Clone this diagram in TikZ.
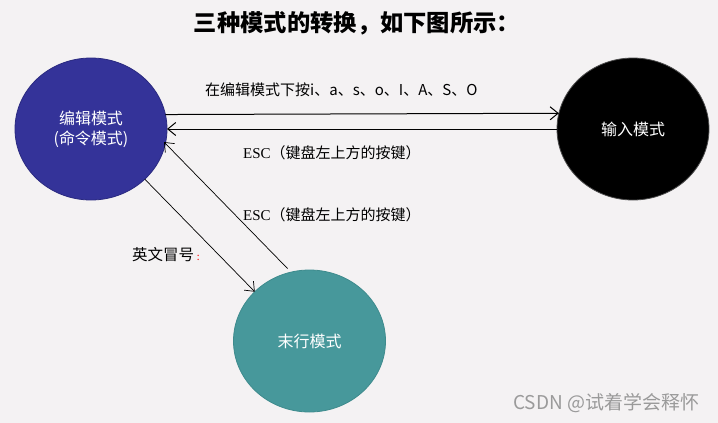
\documentclass[tikz,border=0pt]{standalone}
\usepackage{fontspec}
\newfontfamily\cjk{Noto Sans CJK SC}
\newfontfamily\serifL{Liberation Serif}
\usetikzlibrary{shapes.geometric,arrows.meta}
\definecolor{bgc}{HTML}{F4F2F3}
\definecolor{editblue}{HTML}{343399}
\definecolor{editborder}{HTML}{2A2A80}
\definecolor{tealc}{HTML}{47989B}
\definecolor{tealb}{HTML}{3E8B8D}
\definecolor{wmgray}{HTML}{9A9A9A}
\begin{document}
\begin{tikzpicture}[x=1pt,y=-1pt,
  mode/.style={ellipse, minimum width=152pt, minimum height=142pt, inner sep=0pt, outer sep=0pt,
    text=white, font=\cjk\fontsize{16}{20}\selectfont, align=center, line width=0.8pt},
  lbl/.style={anchor=west, inner sep=0pt, font=\cjk\fontsize{15}{18}\selectfont},
  arr/.style={-{Straight Barb[length=8pt,width=13pt]}, line width=1pt},
  thinarr/.style={arr, line width=0.7pt}
]
\fill[bgc] (0,0) rectangle (718,423);
\useasboundingbox (0,0) rectangle (718,423);

\node[inner sep=0pt, font=\cjk\bfseries\fontsize{23.3}{27}\selectfont] (title) at (357,23) {三种模式的转换，如下图所示：};

\node[mode, fill=editblue, draw=editborder] (edit) at (91,129) {编辑模式\\(命令模式)};
\node[mode, fill=black, draw=black!70] (input) at (633,129) {输入模式};
\node[mode, fill=tealc, draw=tealb] (last) at (309.5,341) {末行模式};

\draw[arr] (edit.11.4) -- (input.168.6);
\draw[arr] (input.west) -- (edit.east);
\draw[thinarr, shorten <=5pt, shorten >=-2pt] (last.105.6) -- (edit.-11.7);
\draw[thinarr] (edit.-43.4) -- (last.138);

\node[lbl] (l1) at (205,89.5) {在编辑模式下按i、a、s、o、I、A、S、O};
\node[lbl] (l2) at (243,153) {{\serifL ESC}（键盘左上方的按键）};
\node[lbl] (l3) at (243,215) {{\serifL ESC}（键盘左上方的按键）};
\node[lbl, font=\cjk\fontsize{15.5}{18}\selectfont] (l4) at (132,255) {英文冒号\,{\color{red}\fontsize{10}{12}\selectfont :}};

\node[anchor=west, inner sep=0pt, text=wmgray, font=\cjk\fontsize{19}{22}\selectfont] (wm) at (513,403) {CSDN @试着学会释怀};
\end{tikzpicture}
\end{document}
